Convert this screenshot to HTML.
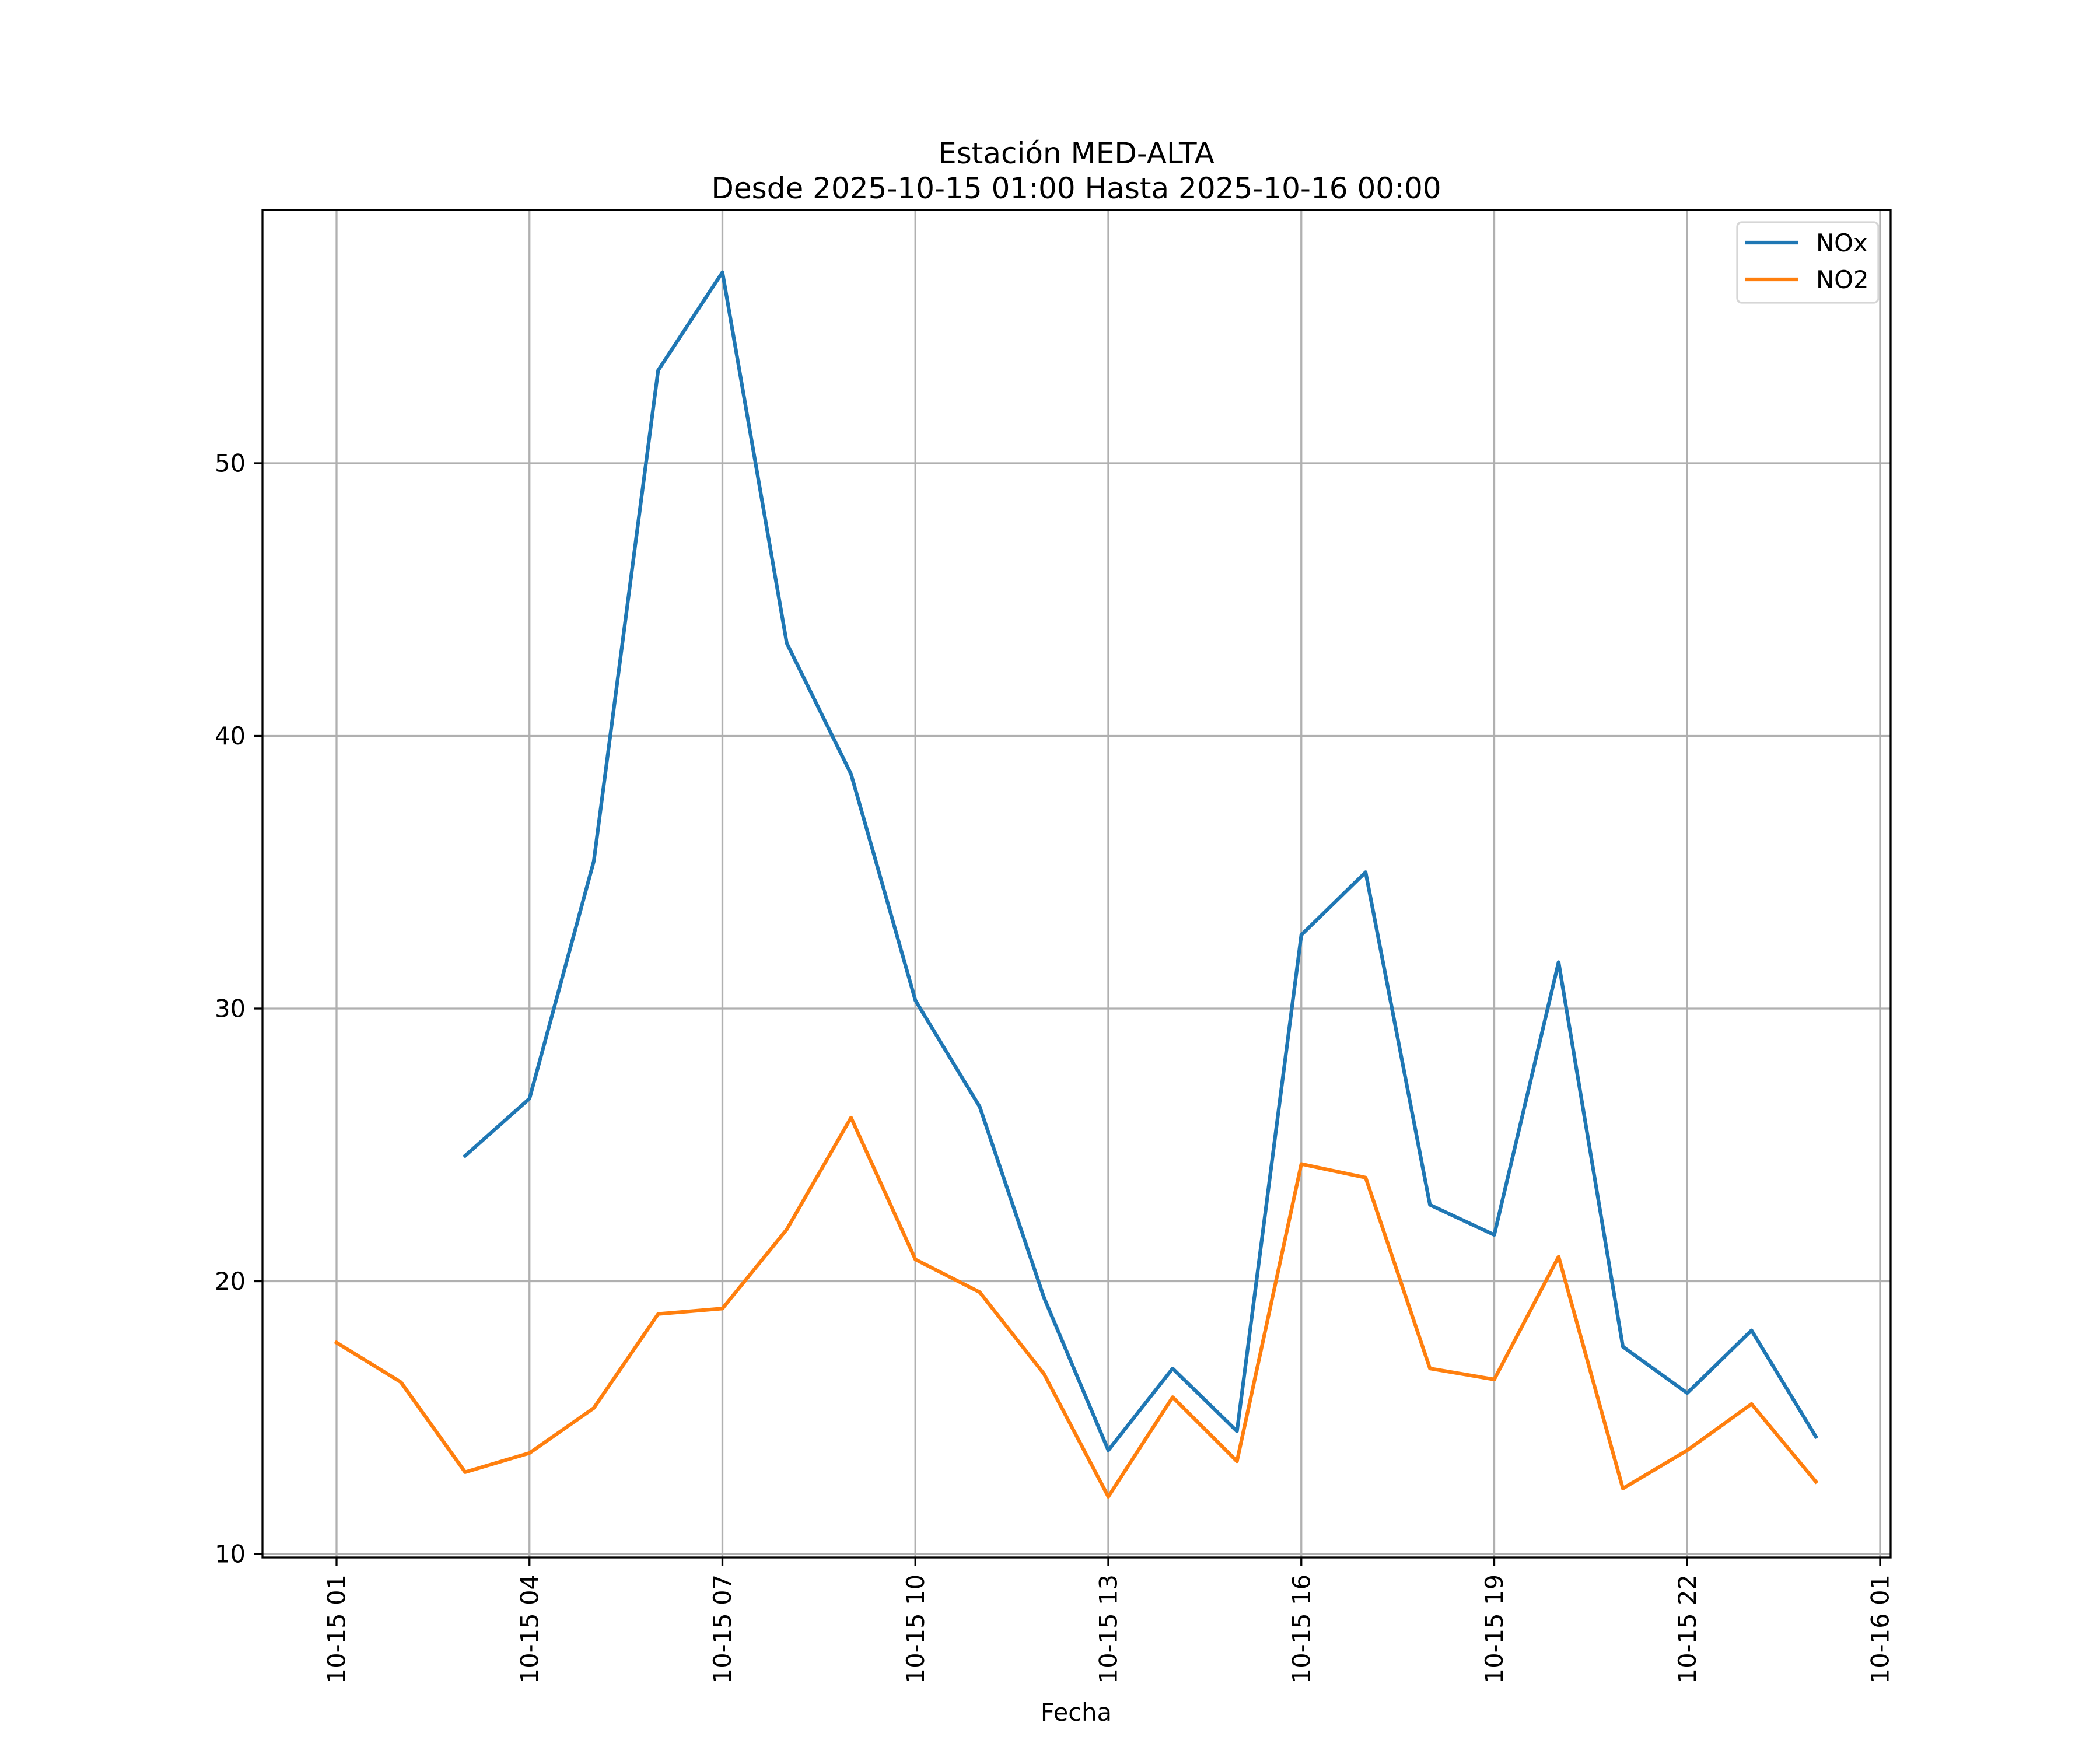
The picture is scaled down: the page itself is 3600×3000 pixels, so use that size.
<!DOCTYPE html>
<html><head><meta charset="utf-8"><style>html,body{margin:0;padding:0;background:#fff}svg{display:block}text{font-family:"DejaVu Sans","Liberation Sans",sans-serif}</style></head>
<body>
<svg id="chart" width="3600" height="3000" viewBox="0 0 3600 3000" xmlns="http://www.w3.org/2000/svg">
<rect width="3600" height="3000" fill="#fff"/>
<g id="grid"></g>
<g id="series"></g>
<rect x="450" y="360" width="2791" height="2310" fill="none" stroke="#000" stroke-width="3.3"/>
<g id="ticks"></g>
<text x="1845" y="280" font-size="50" text-anchor="middle">Estación MED-ALTA</text>
<text x="1845" y="340" font-size="50" text-anchor="middle">Desde 2025-10-15 01:00 Hasta 2025-10-16 00:00</text>
<text x="1845" y="2950" font-size="41.7" text-anchor="middle">Fecha</text>
<g>
<rect x="2978" y="381" width="242" height="138" rx="8" fill="#fff" fill-opacity="0.8" stroke="#d6d6d6" stroke-width="3.3"/>
<line x1="2992" y1="416" x2="3082" y2="416" stroke="#1f77b4" stroke-width="6.25"/>
<text x="3113" y="431" font-size="41.7">NOx</text>
<line x1="2992" y1="479" x2="3082" y2="479" stroke="#ff7f0e" stroke-width="6.25"/>
<text x="3113" y="494" font-size="41.7">NO2</text>
</g>
</svg>
<script>
const noxHours = [3,4,5,6,7,8,9,10,11,12,13,14,15,16,17,18,19,20,21,22,23,24];
const noxValues = [24.6,26.7,35.4,53.4,57.0,43.4,38.6,30.3,26.4,19.4,13.8,16.8,14.5,32.7,35.0,22.8,21.7,31.7,17.6,15.9,18.2,14.3];
const no2Hours = [1,2,3,4,5,6,7,8,9,10,11,12,13,14,15,16,17,18,19,20,21,22,23,24];
const no2Values = [17.75,16.3,13.0,13.7,15.35,18.8,19.0,21.9,26.0,20.8,19.6,16.6,12.1,15.75,13.4,24.3,23.8,16.8,16.4,20.9,12.4,13.8,15.5,12.65];
const xTickHours = [1,4,7,10,13,16,19,22,25];
const xTickLabels = ["10-15 01","10-15 04","10-15 07","10-15 10","10-15 13","10-15 16","10-15 19","10-15 22","10-16 01"];
const yTickValues = [10,20,30,40,50];

const NS = "http://www.w3.org/2000/svg";
const L=450,R=3241,T=360,B=2670;
function xs(h){return 577 + (h-1)*(3223-577)/24;}
function ys(v){return 2664 - (v-10)*(2664-794)/40;}
function mk(tag, attrs, parent){const e=document.createElementNS(NS,tag);for(const k in attrs)e.setAttribute(k,attrs[k]);parent.appendChild(e);return e;}
const grid=document.getElementById('grid'), ticks=document.getElementById('ticks'), series=document.getElementById('series');

xTickHours.forEach((h,i)=>{
  const x=xs(h);
  const g=mk('line',{x1:x,y1:T,x2:x,y2:B,stroke:'#b0b0b0','stroke-width':3.3},grid);
  
  
  const t=mk('line',{x1:x,y1:B,x2:x,y2:B+14.6,stroke:'#000','stroke-width':3.3},ticks);
  
  
  const tx=mk('text',{x:0,y:0,'font-size':41.7,'text-anchor':'end','dominant-baseline':'central',transform:`translate(${x},${B+29}) rotate(-90)`},ticks);
  tx.textContent=xTickLabels[i];
  
  
});
yTickValues.forEach(v=>{
  const y=ys(v);
  const g=mk('line',{x1:L,y1:y,x2:R,y2:y,stroke:'#b0b0b0','stroke-width':3.3},grid);
  
  
  const t=mk('line',{x1:L-14.6,y1:y,x2:L,y2:y,stroke:'#000','stroke-width':3.3},ticks);
  
  
  const tx=mk('text',{x:L-29,y:y,'font-size':41.7,'text-anchor':'end','dominant-baseline':'central'},ticks);
  tx.textContent=String(v);
  
  
});
function pts(hs,vs){return hs.map((h,i)=>xs(h).toFixed(1)+','+ys(vs[i]).toFixed(1)).join(' ');}
const p1=mk('polyline',{points:pts(noxHours,noxValues),fill:'none',stroke:'#1f77b4','stroke-width':6.25,'stroke-linejoin':'round','stroke-linecap':'square'},series);


const p2=mk('polyline',{points:pts(no2Hours,no2Values),fill:'none',stroke:'#ff7f0e','stroke-width':6.25,'stroke-linejoin':'round','stroke-linecap':'square'},series);


</script>
</body></html>
